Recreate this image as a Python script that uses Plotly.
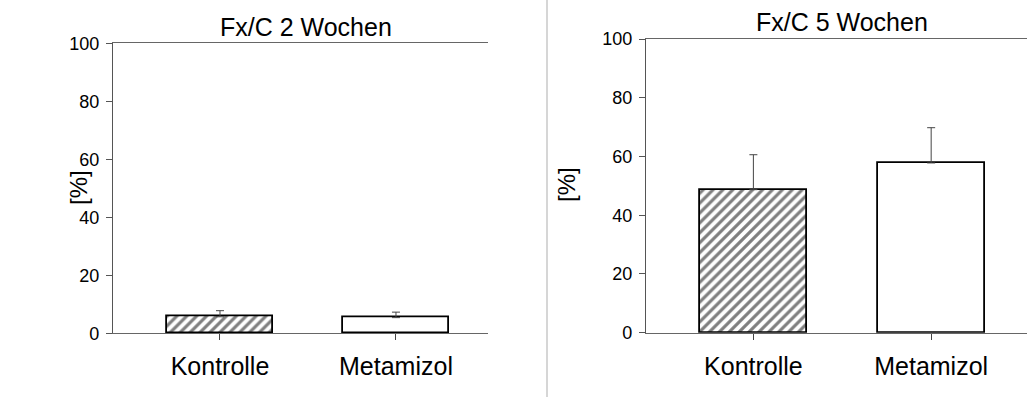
import plotly.graph_objects as go

categories = ["Kontrolle", "Metamizol"]
titles = ["Fx/C 2 Wochen", "Fx/C 5 Wochen"]
values_2w = [5.7, 5.4]
errors_2w = [2.1, 1.9]
values_5w = [48.7, 57.8]
errors_5w = [11.9, 12.0]
y_ticks = [0, 20, 40, 60, 80, 100]
y_label = "[%]"

FONT = "Liberation Sans, Arial, sans-serif"
W, H = 1027, 397

fig = go.Figure()

def add_panel(idx, vals, errs):
    xa = "x" if idx == 1 else "x2"
    ya = "y" if idx == 1 else "y2"
    for i, (c, v, e) in enumerate(zip(categories, vals, errs)):
        marker = dict(color="white", line=dict(color="black", width=1.8))
        if i == 0:
            marker["pattern"] = dict(shape="/", fgcolor="black", bgcolor="white",
                                     size=7, solidity=0.45)
        fig.add_trace(go.Bar(
            x=[c], y=[v], width=0.6, marker=marker,
            error_y=dict(type="data", array=[e], arrayminus=[0], symmetric=False,
                         color="#444", thickness=1, width=4),
            xaxis=xa, yaxis=ya, showlegend=False, hoverinfo="skip"))

add_panel(1, values_2w, errors_2w)
add_panel(2, values_5w, errors_5w)

xcommon = dict(type="category", categoryorder="array", categoryarray=categories,
               showline=True, linecolor="#666", linewidth=1.3, mirror=True,
               ticks="outside", ticklen=6, tickcolor="#444", tickwidth=1,
               tickfont=dict(family=FONT, size=25, color="black"),
               ticklabelstandoff=5, showgrid=False, zeroline=False, fixedrange=True,
               automargin=False)
ycommon = dict(range=[0, 100], tickvals=y_ticks, showline=True, linecolor="#555",
               linewidth=1.3, ticks="outside", ticklen=6, tickcolor="#555",
               tickfont=dict(family=FONT, size=18, color="black"),
               ticklabelstandoff=3, showgrid=False, zeroline=False, fixedrange=True,
               automargin=False)

fig.update_layout(
    width=W, height=H, margin=dict(l=0, r=0, t=0, b=0, autoexpand=False),
    paper_bgcolor="white", plot_bgcolor="white", bargap=0,
    xaxis=dict(domain=[113 / W, 488 / W], range=[-0.608, 1.523], anchor="y", **xcommon),
    yaxis=dict(domain=[(H - 333.3) / H, (H - 43.3) / H], anchor="x", **ycommon),
    xaxis2=dict(domain=[646 / W, 1.0], range=[-0.604, 1.539], anchor="y2", **xcommon),
    yaxis2=dict(domain=[(H - 332.7) / H, (H - 39) / H], anchor="x2", **ycommon),
)

# titles
for x, y, t in [(306, 27, titles[0]), (842, 22, titles[1])]:
    fig.add_annotation(x=x / W, y=(H - y) / H, xref="paper", yref="paper", text=t,
                       showarrow=False, xanchor="center", yanchor="middle",
                       font=dict(family=FONT, size=25, color="black"))
# y labels
for x, y in [(79, 188), (566, 185)]:
    fig.add_annotation(x=x / W, y=(H - y) / H, xref="paper", yref="paper", text=y_label,
                       showarrow=False, xanchor="center", yanchor="middle", textangle=-90,
                       font=dict(family=FONT, size=24, color="black"))

# divider
fig.add_shape(type="line", xref="paper", yref="paper", x0=547 / W, x1=547 / W, y0=0, y1=1,
              line=dict(color="#c8c8c8", width=1.5))

fig.write_html("out.html")
